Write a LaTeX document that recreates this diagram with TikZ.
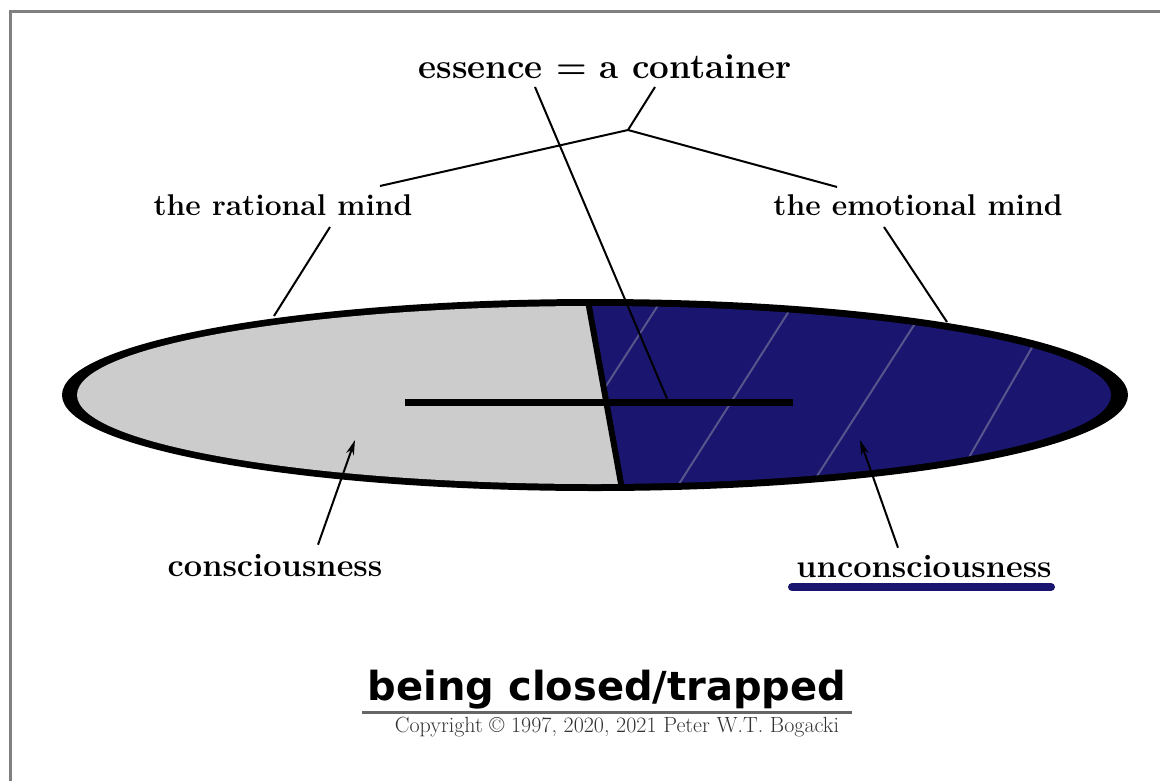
\documentclass[tikz,border=0pt]{standalone}
\usepackage{fontspec}
\usetikzlibrary{arrows.meta}
\newfontfamily\headfont{DejaVu Sans}
\definecolor{navyfill}{RGB}{26,21,110}
\definecolor{greyfill}{RGB}{204,204,204}
\definecolor{hatchline}{RGB}{88,84,140}
\begin{document}
\begin{tikzpicture}[x=1pt,y=-1pt,
  wordlabel/.style={inner sep=0pt,anchor=base,font=\fontsize{30}{36}\selectfont\bfseries},
  pointer/.style={line width=2pt},
  pointy/.style={line width=2pt,-{Stealth[length=15pt,width=8pt]}}]
\useasboundingbox (0,0) rectangle (1160,780);
\fill[white] (0,0) rectangle (1160,780);
\draw[black!50,line width=3pt] (1170,11) -- (10,11) -- (10,790);

% the container
\fill[black] (595,395) ellipse [x radius=533pt,y radius=96pt];
\begin{scope}
\clip (594,395) ellipse [x radius=517pt,y radius=89pt];
\fill[navyfill] (570,250) rectangle (1160,540);
\foreach \xa/\ya/\xb/\yb in {666/293/597/400, 798/297/672/495, 925/308/810/487, 1042/330/960/473}
  \draw[hatchline,line width=2pt] (\xa,\ya) -- (\xb,\yb);
\fill[greyfill] (0,250) -- (578,250) -- (632,540) -- (0,540) -- cycle;
\end{scope}
\draw[line width=6pt] (588,301) -- (622,489);
\draw[line width=7pt] (405,402) -- (793,402);

\node[wordlabel,font=\fontsize{35}{40}\selectfont\bfseries] (essence) at (605,78) {essence = a container};
\node[wordlabel] (rational) at (283,215) {the rational mind};
\node[wordlabel] (emotional) at (918,215) {the emotional mind};
\node[wordlabel,font=\fontsize{32.5}{38}\selectfont\bfseries] (conscious) at (275,576) {consciousness};
\node[wordlabel,font=\fontsize{32.5}{38}\selectfont\bfseries] (unconscious) at (924,577) {unconsciousness};
\node[inner sep=0pt,anchor=base,font=\headfont\fontsize{40}{46}\selectfont\bfseries] (title) at (607,700) {being closed/trapped};
\node[inner sep=0pt,anchor=base,text=black!80,font=\fontsize{22}{26}\selectfont] (copy) at (617,732) {Copyright © 1997, 2020, 2021 Peter W.T. Bogacki};

\coordinate (fork) at (628,130);
\coordinate (barhit) at (668,401);
\coordinate (lefttop) at (274,316);
\coordinate (righttop) at (947,322);
\coordinate (lefttip) at (355,440);
\coordinate (righttip) at (860,440);

\draw[pointer] ([xshift=-70pt,yshift=-9pt]essence.base) -- (barhit);
\draw[pointer] ([xshift=50pt,yshift=-9pt]essence.base) -- (fork);
\draw[pointer] (fork) -- ([xshift=97pt,yshift=8pt]rational.north);
\draw[pointer] (fork) -- ([xshift=-81pt,yshift=7pt]emotional.north);
\draw[pointer] ([xshift=47pt,yshift=-12pt]rational.base) -- (lefttop);
\draw[pointer] ([xshift=-34pt,yshift=-12pt]emotional.base) -- (righttop);
\draw[pointy] ([xshift=43pt,yshift=9pt]conscious.north) -- (lefttip);
\draw[pointy] ([xshift=-26pt,yshift=7pt]unconscious.north) -- (righttip);

\draw[navyfill,line width=8pt,line cap=round] ([xshift=-132pt,yshift=-10pt]unconscious.base) -- ([xshift=127pt,yshift=-10pt]unconscious.base);
\draw[black!60,line width=3pt] ([xshift=-245pt,yshift=-12pt]title.base) -- ([xshift=245pt,yshift=-12pt]title.base);
\end{tikzpicture}
\end{document}
